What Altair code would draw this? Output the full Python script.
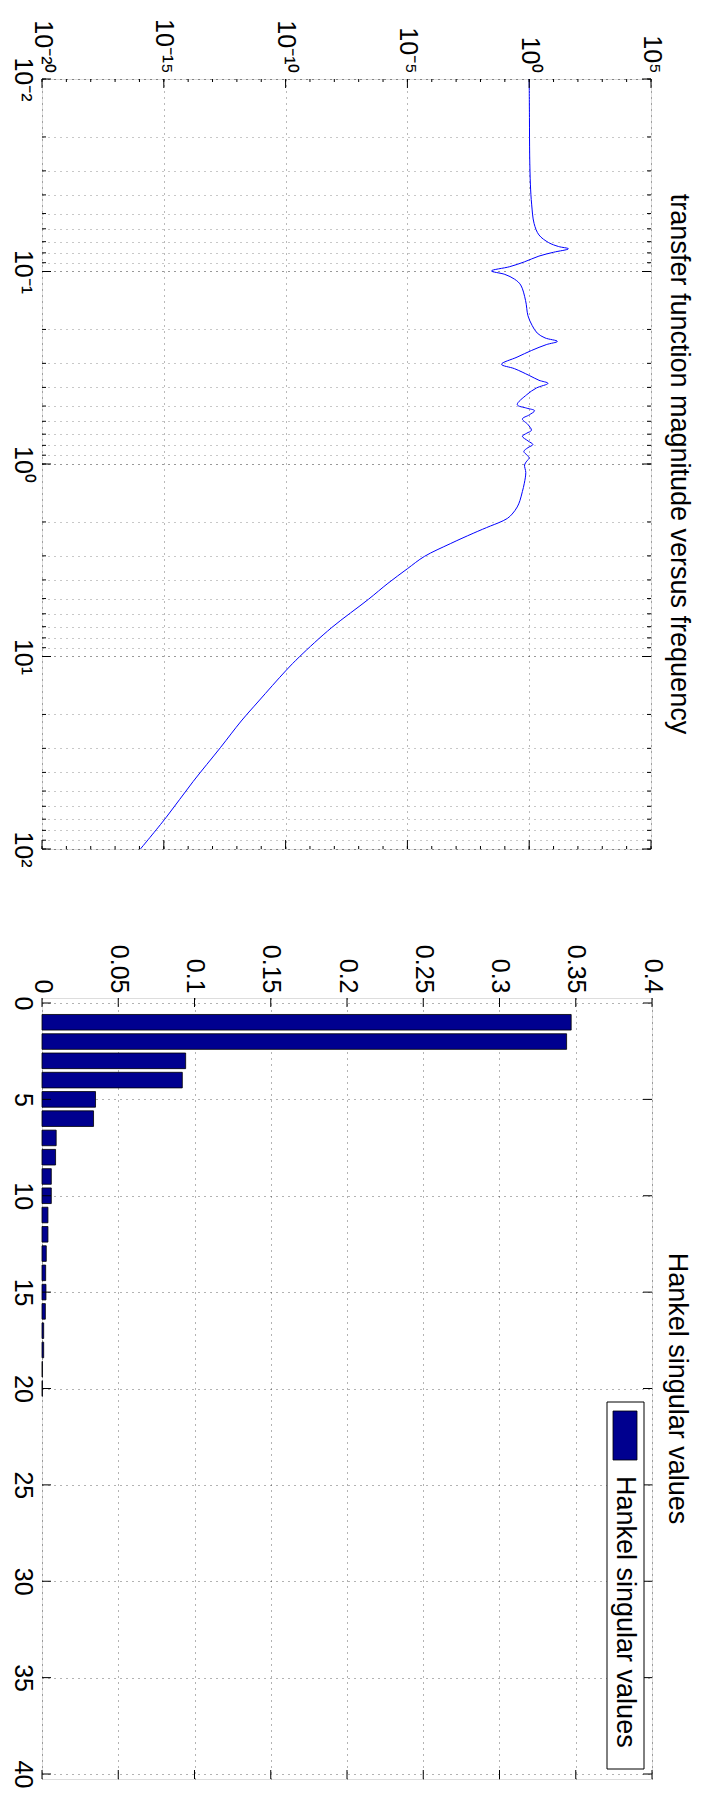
import altair as alt
import pandas as pd

# ---------------- data: transfer function (log10 units) ----
log_freq = [-2.0, -1.8, -1.6, -1.45, -1.35, -1.25, -1.19, -1.15, -1.13, -1.118,
            -1.10, -1.08, -1.05, -1.025, -1.003, -0.985, -0.96, -0.93, -0.85, -0.77,
            -0.72, -0.68, -0.655, -0.637, -0.62, -0.59, -0.555, -0.518, -0.495, -0.46,
            -0.435, -0.419, -0.395, -0.36, -0.308, -0.29, -0.277, -0.255, -0.234, -0.205,
            -0.175, -0.16, -0.144, -0.12, -0.101, -0.085, -0.065, -0.045, -0.031, -0.015,
            0.005, 0.044, 0.10, 0.143, 0.19, 0.223, 0.26, 0.283, 0.305, 0.322,
            0.36, 0.414, 0.48, 0.544, 0.62, 0.703, 0.85, 1.0, 1.075, 1.231,
            1.335, 1.474, 1.65, 1.837, 2.0]
log_mag = [0.0, 0.01, 0.02, 0.05, 0.1, 0.2, 0.4, 0.8, 1.2, 1.61,
           1.0, 0.4, -0.2, -0.8, -1.55, -1.0, -0.6, -0.35, -0.15, -0.05,
           0.12, 0.33, 0.65, 1.157, 0.7, 0.1, -0.5, -1.137, -0.6, 0.0,
           0.4, 0.77, 0.3, -0.1, -0.49, -0.1, 0.22, 0.0, -0.28, -0.05,
           0.09, -0.1, -0.28, -0.05, 0.15, -0.05, -0.22, -0.08, 0.0, -0.1,
           -0.19, -0.14, -0.2, -0.28, -0.38, -0.49, -0.7, -0.9, -1.25, -1.59,
           -2.3, -3.24, -4.3, -5.0, -5.8, -6.6, -8.11, -9.42, -10.0, -11.1,
           -11.82, -12.68, -13.8, -14.91, -15.96]

# ---------------- data: Hankel singular values ----------------
hsv_index = list(range(1, 21))
hsv_value = [0.347, 0.344, 0.0942, 0.0920, 0.0351, 0.0338, 0.0093, 0.0089, 0.0061, 0.0061,
             0.0039, 0.0039, 0.0028, 0.0024, 0.0026, 0.0022, 0.0011, 0.0011, 0.0003, 0.0003]

# ---------------- tick labels ----------------
mag_ticks = [1e-20, 1e-15, 1e-10, 1e-5, 1e0, 1e5]
mag_tick_labels = ["10⁻²⁰", "10⁻¹⁵", "10⁻¹⁰", "10⁻⁵", "10⁰", "10⁵"]
freq_ticks = [0.01, 0.1, 1, 10, 100]
freq_tick_labels = ["10⁻²", "10⁻¹", "10⁰", "10¹", "10²"]
hsv_ticks = [0, 0.05, 0.1, 0.15, 0.2, 0.25, 0.3, 0.35, 0.4]
hsv_tick_labels = ["0", "0.05", "0.1", "0.15", "0.2", "0.25", "0.3", "0.35", "0.4"]
idx_ticks = [0, 5, 10, 15, 20, 25, 30, 35, 40]

title_top = "transfer function magnitude versus frequency"
title_bottom = "Hankel singular values"
legend_label = "Hankel singular values"

freq_minor = [m * 10.0 ** e for e in range(-2, 2) for m in range(1, 10)] + [100.0]
mag_minor = [10.0 ** e for e in range(-20, 6)]

FONT = "Liberation Sans"
LBL = 25
TTL = 27
BAR_COLOR = "#00008F"
LINE_COLOR = "#0000FF"

W1, H1 = 609, 770
W2, H2 = 610, 781


def arr(lst):
    return "[" + ",".join("'" + s + "'" for s in lst) + "]"


L = "(log(datum.value)/LN10)"
mag_expr = arr(mag_tick_labels) + "[round(" + L + "/5)+4]"
freq_expr = "abs(" + L + "-round(" + L + "))<0.001 ? " + arr(freq_tick_labels) + "[round(" + L + ")+2] : ''"
hsv_expr = arr(hsv_tick_labels) + "[round(datum.value/0.05)]"

# ---------------- top panel ----------------
tf = pd.DataFrame({"f": [10.0 ** v for v in log_freq], "m": [10.0 ** v for v in log_mag]})
xs1 = alt.Scale(type="log", domain=[1e-20, 1e5], nice=False)
ys1 = alt.Scale(type="log", domain=[0.01, 100], nice=False, reverse=True)

x_axis1 = alt.Axis(orient="top", values=mag_ticks, labelExpr=mag_expr, labelAngle=90,
                   labelAlign="right", labelBaseline="middle", labelPadding=6,
                   minExtent=65, maxExtent=65,
                   labelFlush=False, labelOverlap=False, ticks=False, domain=False,
                   grid=True, gridDash=[1, 5], gridColor="#000", gridOpacity=0.55,
                   title=None, labelFont=FONT, labelFontSize=LBL, labelColor="#000")
y_axis1 = alt.Axis(orient="left", values=freq_minor, labelExpr=freq_expr, labelAngle=90,
                   labelAlign="center", labelBaseline="top", labelPadding=8,
                   minExtent=33, maxExtent=33,
                   labelFlush=False, labelOverlap=False, ticks=False, domain=False,
                   grid=True, gridDash=[1, 5],
                   gridColor={"condition": {"test": "abs(" + L + "-round(" + L + "))<0.001", "value": "#000"},
                              "value": "#777"},
                   gridOpacity=0.8,
                   title=None, labelFont=FONT, labelFontSize=LBL, labelColor="#000")

line = alt.Chart(tf).mark_line(color=LINE_COLOR, strokeWidth=1, clip=True,
                               interpolate="catmull-rom").encode(
    x=alt.X("m:Q", scale=xs1, axis=x_axis1),
    y=alt.Y("f:Q", scale=ys1, axis=y_axis1),
    order=alt.Order("f:Q"),
)


def yticks(values, scale, axis, length, width):
    d = pd.DataFrame({"f": values})
    base = alt.Chart(d).mark_rule(color="black", strokeWidth=1)
    left = base.encode(y=alt.Y("f:Q", scale=scale, axis=axis), x=alt.value(0), x2=alt.value(length))
    right = base.encode(y=alt.Y("f:Q", scale=scale, axis=axis), x=alt.value(width), x2=alt.value(width - length))
    return [left, right]


def xticks(values, scale, axis, length, height):
    d = pd.DataFrame({"m": values})
    base = alt.Chart(d).mark_rule(color="black", strokeWidth=1)
    top = base.encode(x=alt.X("m:Q", scale=scale, axis=axis), y=alt.value(0), y2=alt.value(length))
    bot = base.encode(x=alt.X("m:Q", scale=scale, axis=axis), y=alt.value(height), y2=alt.value(height - length))
    return [top, bot]


one = pd.DataFrame({"k": [0]})


def side_title(text, w, h, dx):
    return alt.Chart(one).mark_text(angle=90, align="center", baseline="alphabetic",
                                    fontSize=TTL, font=FONT, color="black").encode(
        x=alt.value(w + dx), y=alt.value(h / 2), text=alt.value(text))


top_layers = [line]
top_layers += yticks(freq_minor, ys1, y_axis1, 4, W1)
top_layers += yticks(freq_ticks, ys1, y_axis1, 9, W1)
top_layers += xticks(mag_minor, xs1, x_axis1, 3, H1)
top_layers += xticks(mag_ticks, xs1, x_axis1, 9, H1)
top_layers += [side_title(title_top, W1, H1, 20)]

top = alt.layer(*top_layers).properties(width=W1, height=H1)

# ---------------- bottom panel ----------------
hs = pd.DataFrame({"i": hsv_index, "v": hsv_value})
xs2 = alt.Scale(domain=[0, 0.4], nice=False, zero=True)
ys2 = alt.Scale(domain=[0, 40], nice=False, reverse=True)

x_axis2 = alt.Axis(orient="top", values=hsv_ticks, labelExpr=hsv_expr, labelAngle=90,
                   labelAlign="right", labelBaseline="middle", labelPadding=5,
                   labelFlush=False, labelOverlap=False, ticks=False, domain=False,
                   grid=True, gridDash=[1, 5], gridColor="#000", gridOpacity=0.6,
                   title=None, labelFont=FONT, labelFontSize=LBL, labelColor="#000")
y_axis2 = alt.Axis(orient="left", values=idx_ticks, labelAngle=90,
                   labelAlign="center", labelBaseline="top", labelPadding=8,
                   minExtent=33, maxExtent=33,
                   labelFlush=False, labelOverlap=False, ticks=False, domain=False,
                   grid=True, gridDash=[1, 5], gridColor="#000", gridOpacity=0.6,
                   title=None, labelFont=FONT, labelFontSize=LBL, labelColor="#000")

bars = alt.Chart(hs).mark_bar(orient="horizontal", size=15.6, color=BAR_COLOR,
                              stroke="black", strokeWidth=0.8).encode(
    x=alt.X("v:Q", scale=xs2, axis=x_axis2),
    y=alt.Y("i:Q", scale=ys2, axis=y_axis2),
)


def xticks2(values, length, height):
    d = pd.DataFrame({"v": values})
    base = alt.Chart(d).mark_rule(color="black", strokeWidth=1)
    top_ = base.encode(x=alt.X("v:Q", scale=xs2, axis=x_axis2), y=alt.value(0), y2=alt.value(length))
    bot_ = base.encode(x=alt.X("v:Q", scale=xs2, axis=x_axis2), y=alt.value(height), y2=alt.value(height - length))
    return [top_, bot_]


def yticks2(values, length, width):
    d = pd.DataFrame({"i": values})
    base = alt.Chart(d).mark_rule(color="black", strokeWidth=1)
    l_ = base.encode(y=alt.Y("i:Q", scale=ys2, axis=y_axis2), x=alt.value(0), x2=alt.value(length))
    r_ = base.encode(y=alt.Y("i:Q", scale=ys2, axis=y_axis2), x=alt.value(width), x2=alt.value(width - length))
    return [l_, r_]


# legend (box, swatch, label) placed inside the lower-right of the plot
LX, LY = W2 - 45, 404
leg_box = alt.Chart(one).mark_rect(fill="white", stroke="black", strokeWidth=1).encode(
    x=alt.value(LX), x2=alt.value(LX + 37), y=alt.value(LY), y2=alt.value(LY + 367))
leg_sw = alt.Chart(one).mark_rect(fill=BAR_COLOR, stroke="black", strokeWidth=0.8).encode(
    x=alt.value(LX + 6), x2=alt.value(LX + 30), y=alt.value(LY + 9), y2=alt.value(LY + 58))
leg_tx = alt.Chart(one).mark_text(angle=90, align="left", baseline="middle", fontSize=TTL,
                                  font=FONT, color="black").encode(
    x=alt.value(LX + 18), y=alt.value(LY + 74), text=alt.value(legend_label))

bot_layers = [bars]
bot_layers += xticks2(hsv_ticks, 9, H2)
bot_layers += yticks2(idx_ticks, 9, W2)
bot_layers += [leg_box, leg_sw, leg_tx, side_title(title_bottom, W2, H2, 17)]

bottom = alt.layer(*bot_layers).properties(width=W2, height=H2)

chart = alt.concat(top, bottom, columns=1, spacing=75).properties(
    align="none",
    padding={"left": 0, "top": 5, "right": 0, "bottom": 0},
).configure_view(stroke="black", strokeWidth=1).configure(font=FONT)

chart.save("out.html", embed_options={"renderer": "svg", "actions": False})
